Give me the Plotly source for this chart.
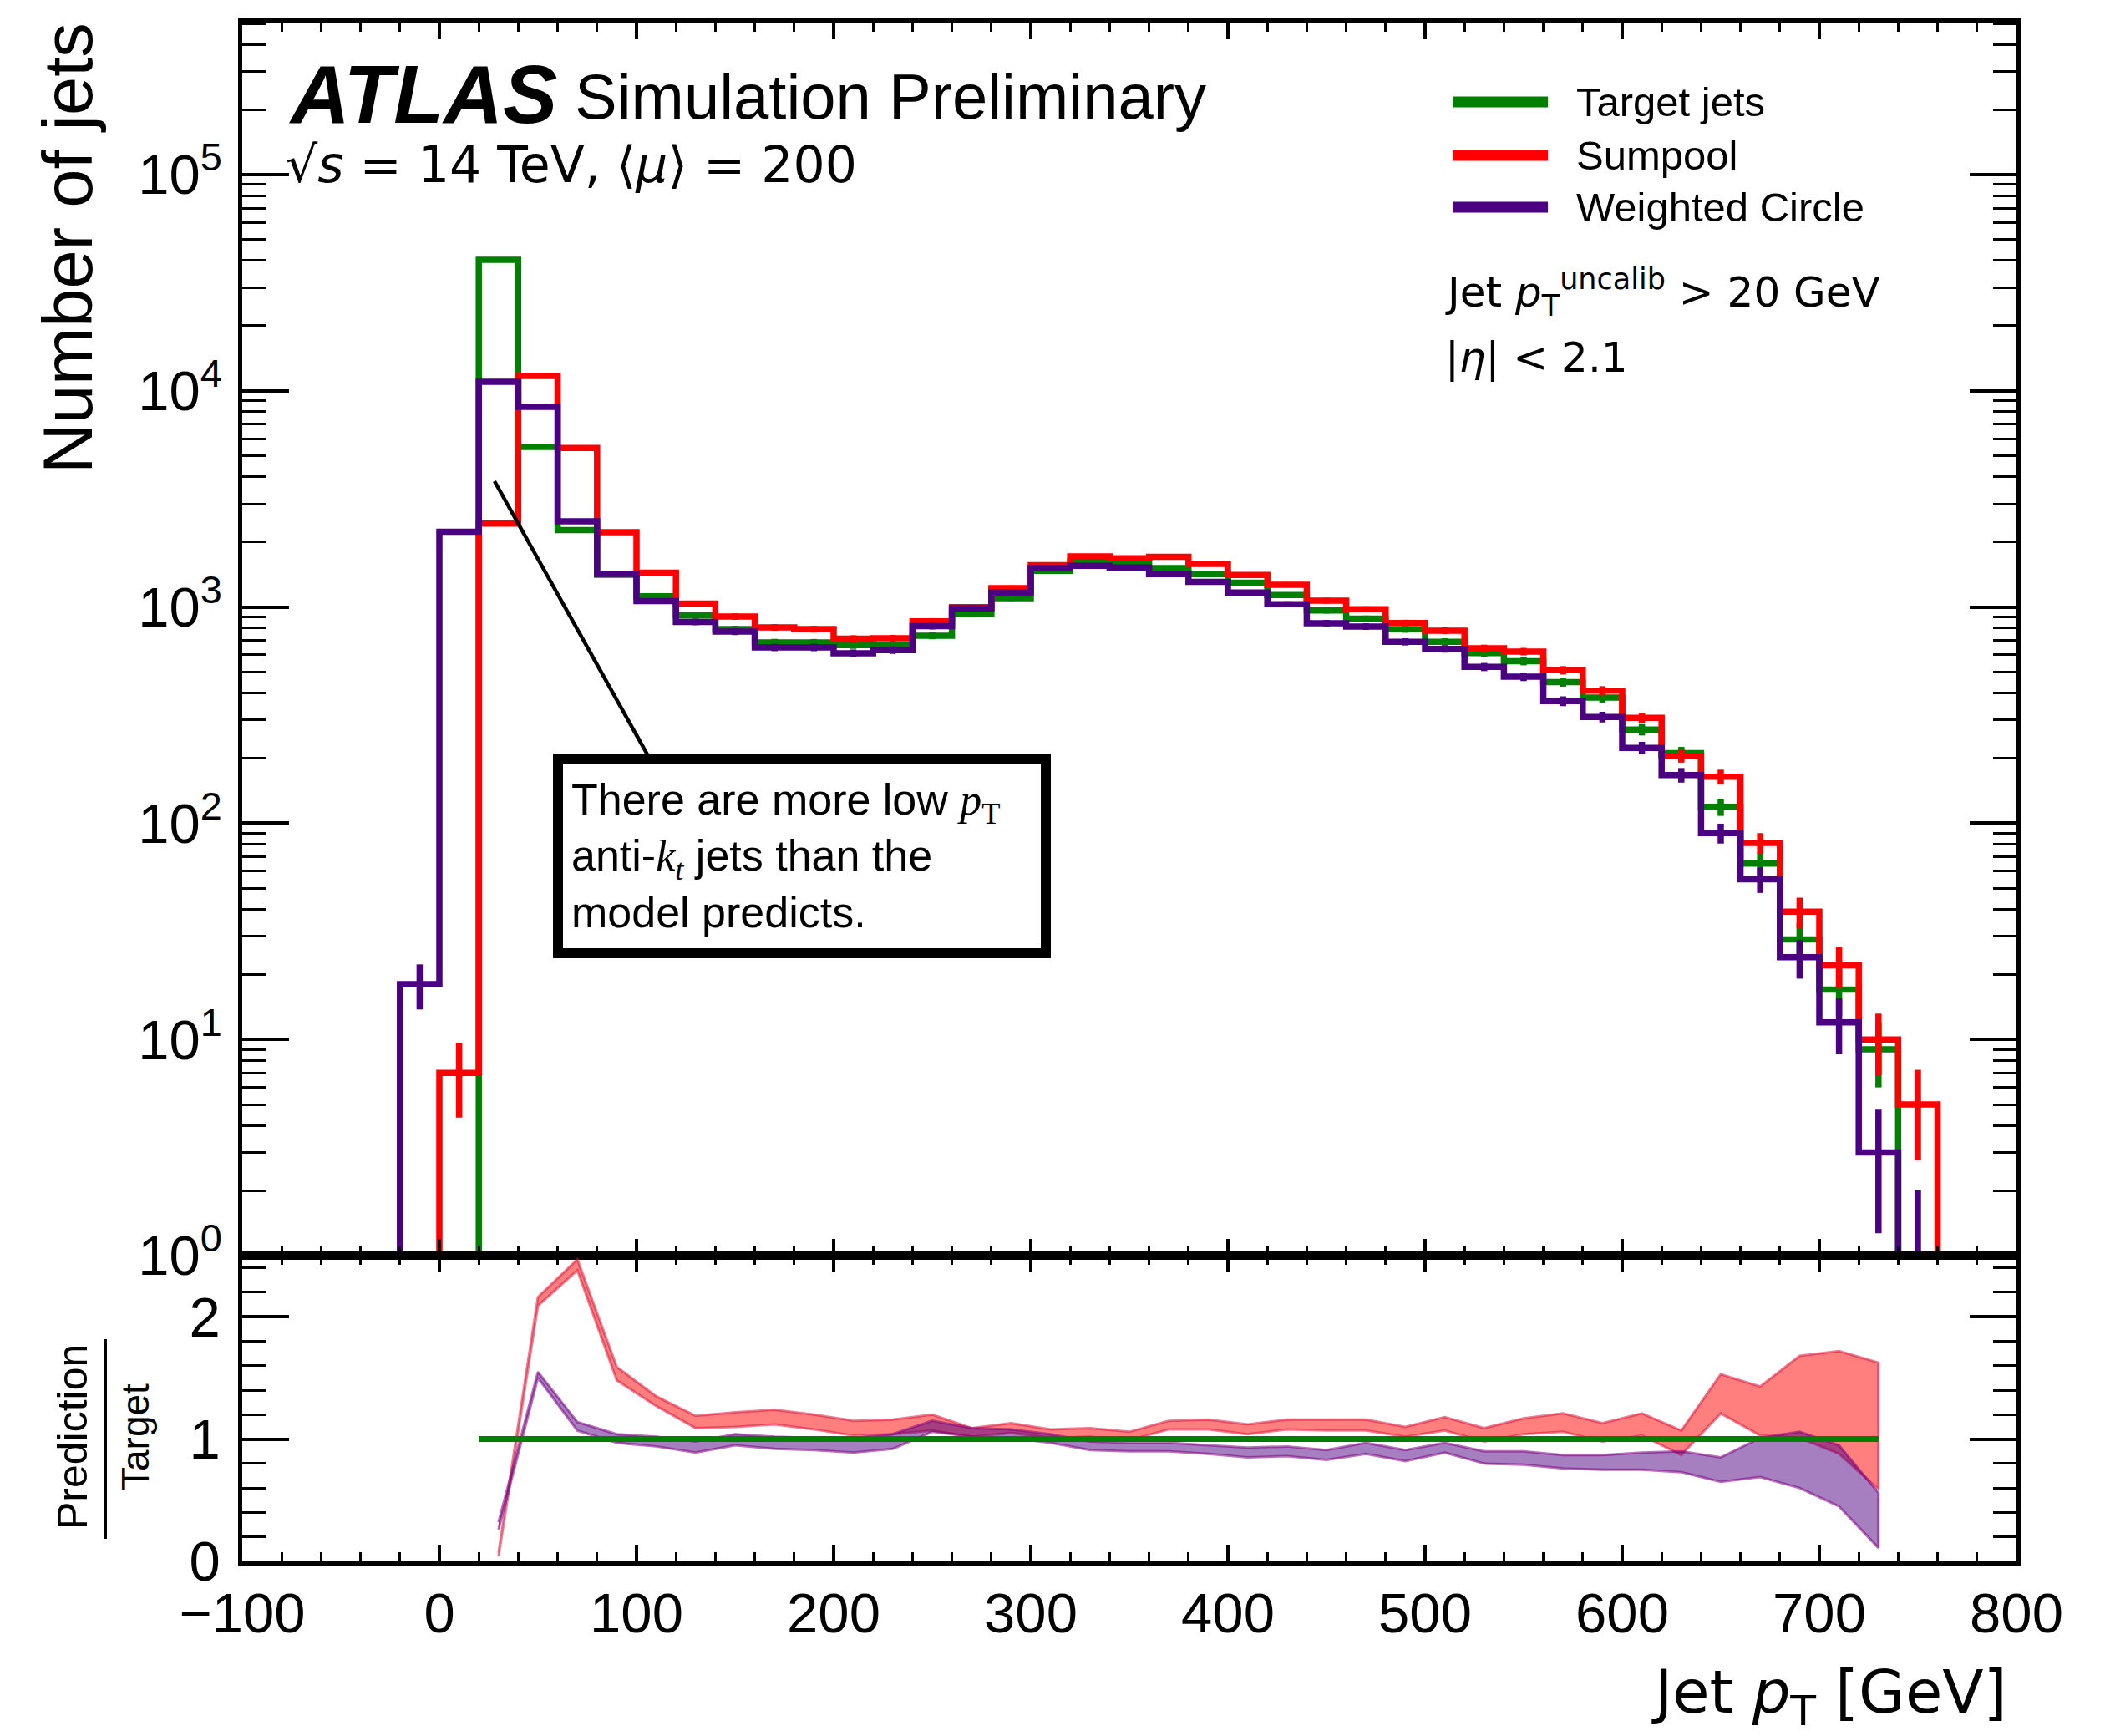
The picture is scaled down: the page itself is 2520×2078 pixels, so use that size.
import math
import plotly.graph_objects as go

# ---------------- data ----------------
bin_edges = list(range(-20, 780, 20))  # 39 bins of 20 GeV, -20 .. 760

target_jets = [0, 0, 40300, 5500, 2270, 1410, 1120, 914, 791, 686,
               685, 666, 666, 736, 928, 1099, 1470, 1631, 1606, 1514,
               1418, 1294, 1135, 964, 883, 788, 690, 612, 561, 449,
               381, 271, 211, 119, 65, 29, 17, 9, 0]
sumpool = [0, 7, 2430, 11700, 5440, 2220, 1440, 1036, 903, 805,
           790, 713, 716, 859, 998, 1223, 1560, 1714, 1680, 1705,
           1583, 1405, 1267, 1070, 976, 844, 777, 644, 622, 510,
           410, 307, 205, 164, 81, 39, 22, 10, 5]
weighted_circle = [18, 2230, 11000, 8430, 2490, 1422, 1065, 853, 769, 650,
                   650, 611, 632, 816, 985, 1166, 1514, 1550, 1523, 1418,
                   1306, 1166, 1030, 842, 812, 690, 640, 528, 476, 367,
                   310, 223, 167, 90, 55, 24, 12, 3, 1]

ratio_x = list(range(30, 750, 20))  # bin centres 30 .. 730
sumpool_ratio_hi = [0.07, 2.16, 2.47, 1.59, 1.35, 1.19, 1.22, 1.24, 1.20, 1.15,
                    1.16, 1.20, 1.09, 1.13, 1.08, 1.09, 1.06, 1.15, 1.16, 1.12,
                    1.16, 1.16, 1.16, 1.10, 1.18, 1.09, 1.17, 1.21, 1.13, 1.21,
                    1.07, 1.53, 1.43, 1.68, 1.72, 1.625]
sumpool_ratio_lo = [0.04, 2.09, 2.38, 1.48, 1.27, 1.09, 1.10, 1.12, 1.08, 1.03,
                    1.04, 1.07, 1.02, 1.05, 1.01, 1.02, 0.99, 1.08, 1.08, 1.04,
                    1.08, 1.07, 1.07, 1.02, 1.07, 0.98, 1.04, 1.06, 0.98, 1.03,
                    0.87, 1.21, 1.03, 1.01, 0.88, 0.59]
wc_ratio_hi = [0.32, 1.55, 1.14, 1.04, 1.02, 0.98, 1.04, 1.02, 1.01, 1.01,
               1.04, 1.15, 1.09, 1.08, 1.04, 0.98, 0.97, 0.97, 0.95, 0.93,
               0.94, 0.91, 0.97, 0.91, 0.97, 0.90, 0.90, 0.87, 0.87, 0.89,
               0.90, 0.85, 1.01, 1.06, 0.95, 0.56]
wc_ratio_lo = [0.26, 1.50, 1.07, 0.97, 0.94, 0.89, 0.95, 0.92, 0.91, 0.89,
               0.92, 1.06, 1.02, 1.01, 0.97, 0.91, 0.90, 0.90, 0.88, 0.85,
               0.86, 0.83, 0.88, 0.82, 0.89, 0.80, 0.79, 0.76, 0.75, 0.75,
               0.73, 0.65, 0.69, 0.60, 0.45, 0.11]
reference_span = [20, 730]

x_major_ticks = [-100, 0, 100, 200, 300, 400, 500, 600, 700, 800]
y_decades = [0, 1, 2, 3, 4, 5]

# ---------------- styling ----------------
GREEN = "#008000"
RED = "#ff0000"
PURPLE = "#4b0082"
FONT = "Liberation Sans"
MATH = "DejaVu Sans"
FLOOR = 0.01
LW = 7.5

W, H = 2520, 2078
ML, MR, MT, MB = 290, 106, 27, 209
PW = W - ML - MR
PH = H - MT - MB
RATIO_FRAC = 366 / PH


def px(xfull):
    return (xfull - ML) / PW


def py(yfull):
    return (H - MB - yfull) / PH


def step_xy(vals):
    xs = [bin_edges[0]] + bin_edges[:-1] + [bin_edges[-1]]
    ys = [FLOOR] + [v if v > 0 else FLOOR for v in vals] + [FLOOR]
    return xs, ys


def err_xy(vals):
    xs, ys = [], []
    for a, b, v in zip(bin_edges[:-1], bin_edges[1:], vals):
        if v <= 0:
            continue
        c = 0.5 * (a + b)
        e = math.sqrt(v)
        xs += [c, c, None]
        ys += [max(v - e, FLOOR), v + e, None]
    return xs, ys


fig = go.Figure()

for name, vals, col in [("Target jets", target_jets, GREEN),
                        ("Sumpool", sumpool, RED),
                        ("Weighted Circle", weighted_circle, PURPLE)]:
    sx, sy = step_xy(vals)
    fig.add_trace(go.Scatter(x=sx, y=sy, mode="lines", name=name,
                             line=dict(color=col, width=LW, shape="hv"),
                             showlegend=False, xaxis="x", yaxis="y"))
    ex, ey = err_xy(vals)
    fig.add_trace(go.Scatter(x=ex, y=ey, mode="lines", name=name + " stat.",
                             line=dict(color=col, width=LW),
                             showlegend=False, xaxis="x", yaxis="y"))

# ratio bands
for hi, lo, fillc, edgec, name in [
        (sumpool_ratio_hi, sumpool_ratio_lo, "rgba(255,0,0,0.5)", "rgba(220,20,60,0.55)", "Sumpool / Target"),
        (wc_ratio_hi, wc_ratio_lo, "rgba(75,0,130,0.5)", "rgba(128,0,128,0.55)", "Weighted Circle / Target")]:
    fig.add_trace(go.Scatter(x=ratio_x + ratio_x[::-1], y=hi + lo[::-1],
                             fill="toself", fillcolor=fillc, mode="lines",
                             line=dict(color=edgec, width=3), name=name,
                             showlegend=False, xaxis="x2", yaxis="y2"))
fig.add_trace(go.Scatter(x=reference_span, y=[1, 1], mode="lines",
                         line=dict(color=GREEN, width=7), name="Target / Target",
                         showlegend=False, xaxis="x2", yaxis="y2"))

axis_common = dict(showline=True, linecolor="black", linewidth=4.5, mirror="allticks",
                   ticks="inside", tickcolor="black", showgrid=False, zeroline=False,
                   tickfont=dict(family=FONT, size=67, color="black"))

minor_log = [m * 10 ** d for d in y_decades for m in range(2, 10)]

fig.update_layout(
    width=W, height=H, autosize=False,
    margin=dict(l=ML, r=MR, t=MT, b=MB, pad=0),
    paper_bgcolor="white", plot_bgcolor="white",
    xaxis=dict(domain=[0, 1], anchor="y", range=[-100, 800], tickvals=x_major_ticks,
               ticklen=20, tickwidth=4, showticklabels=False,
               minor=dict(ticks="inside", dtick=20, tick0=-100, ticklen=11, tickwidth=3, tickcolor="black"),
               matches="x2", **axis_common),
    yaxis=dict(domain=[RATIO_FRAC, 1], anchor="x", type="log", range=[0, 5.703],
               tickvals=[10 ** d for d in y_decades],
               ticktext=["10<sup>%d</sup>" % d for d in y_decades],
               ticklen=56, tickwidth=4, ticklabelstandoff=6,
               minor=dict(ticks="inside", tickvals=minor_log, ticklen=28, tickwidth=3, tickcolor="black"),
               **axis_common),
    xaxis2=dict(domain=[0, 1], anchor="y2", range=[-100, 800], tickvals=x_major_ticks,
                ticklen=20, tickwidth=4, ticklabelstandoff=0,
                minor=dict(ticks="inside", dtick=20, tick0=-100, ticklen=11, tickwidth=3, tickcolor="black"),
                **axis_common),
    yaxis2=dict(domain=[0, RATIO_FRAC], anchor="x2", range=[0, 2.5], tickvals=[0, 1, 2],
                ticklen=56, tickwidth=4, ticklabelstandoff=8,
                minor=dict(ticks="inside", dtick=0.2, tick0=0, ticklen=28, tickwidth=3, tickcolor="black"),
                **axis_common),
)

ann = []
# ATLAS label
ann.append(dict(text="<b><i>ATLAS</i></b>", x=px(343), y=py(113), xref="paper", yref="paper",
                xanchor="left", yanchor="middle", showarrow=False,
                font=dict(family=FONT, size=98, color="black")))
ann.append(dict(text="Simulation Preliminary", x=px(686), y=py(115), xref="paper", yref="paper",
                xanchor="left", yanchor="middle", showarrow=False,
                font=dict(family=FONT, size=76, color="black")))
ann.append(dict(text="\u221a<i>s</i> = 14 TeV, \u27e8<i>\u03bc</i>\u27e9 = 200", x=px(340), y=py(197),
                xref="paper", yref="paper", xanchor="left", yanchor="middle", showarrow=False,
                font=dict(family=MATH, size=60, color="black")))
# legend
for label, col, yc in [("Target jets", GREEN, 122), ("Sumpool", RED, 186), ("Weighted Circle", PURPLE, 248)]:
    ann.append(dict(text=label, x=px(1885), y=py(yc), xref="paper", yref="paper",
                    xanchor="left", yanchor="middle", showarrow=False,
                    font=dict(family=FONT, size=49, color="black")))
ann.append(dict(text="Jet <i>p</i><sub>T</sub><sup>uncalib</sup> > 20 GeV", x=px(1728), y=py(350),
                xref="paper", yref="paper", xanchor="left", yanchor="middle", showarrow=False,
                font=dict(family=MATH, size=50, color="black")))
ann.append(dict(text="|<i>\u03b7</i>| < 2.1", x=px(1728), y=py(428),
                xref="paper", yref="paper", xanchor="left", yanchor="middle", showarrow=False,
                font=dict(family=MATH, size=50, color="black")))
# annotation box
ser = "font-family:'Liberation Serif'"
ann.append(dict(text=("There are more low <span style=\"%s\"><i>p</i><sub>T</sub></span><br>"
                      "anti-<span style=\"%s\"><i>k</i><sub><i>t</i></sub></span> jets than the<br>"
                      "model predicts.") % (ser, ser),
                x=px(662), y=py(902), xref="paper", yref="paper", xanchor="left", yanchor="top",
                showarrow=False, align="left", valign="middle", width=552, height=201,
                bordercolor="black", borderwidth=12, borderpad=10, bgcolor="white",
                font=dict(family=FONT, size=52, color="black")))
# axis titles
ann.append(dict(text="Number of jets", x=px(82), y=py(297), xref="paper", yref="paper",
                xanchor="center", yanchor="middle", textangle=-90, showarrow=False,
                font=dict(family=FONT, size=83, color="black")))
ann.append(dict(text="Jet <i>p</i><sub>T</sub> [GeV]", x=px(2405), y=py(2030), xref="paper", yref="paper",
                xanchor="right", yanchor="middle", showarrow=False,
                font=dict(family=MATH, size=72, color="black")))
ann.append(dict(text="Prediction", x=px(87), y=py(1720), xref="paper", yref="paper",
                xanchor="center", yanchor="middle", textangle=-90, showarrow=False,
                font=dict(family=FONT, size=50, color="black")))
ann.append(dict(text="Target", x=px(162), y=py(1720), xref="paper", yref="paper",
                xanchor="center", yanchor="middle", textangle=-90, showarrow=False,
                font=dict(family=FONT, size=46, color="black")))

shapes = []
for col, yc in [(GREEN, 122), (RED, 186), (PURPLE, 248)]:
    shapes.append(dict(type="line", xref="paper", yref="paper", x0=px(1739), x1=px(1853),
                       y0=py(yc), y1=py(yc), line=dict(color=col, width=13)))
shapes.append(dict(type="line", xref="paper", yref="paper", x0=px(592), y0=py(576),
                   x1=px(776), y1=py(905), line=dict(color="black", width=4.5)))
shapes.append(dict(type="line", xref="paper", yref="paper", x0=px(126), x1=px(126),
                   y0=py(1603), y1=py(1842), line=dict(color="black", width=4)))

fig.update_layout(annotations=ann, shapes=shapes)

fig.write_html("out.html", config={"displayModeBar": False},
               post_script="document.body.style.margin='0';document.body.style.overflow='hidden';")
